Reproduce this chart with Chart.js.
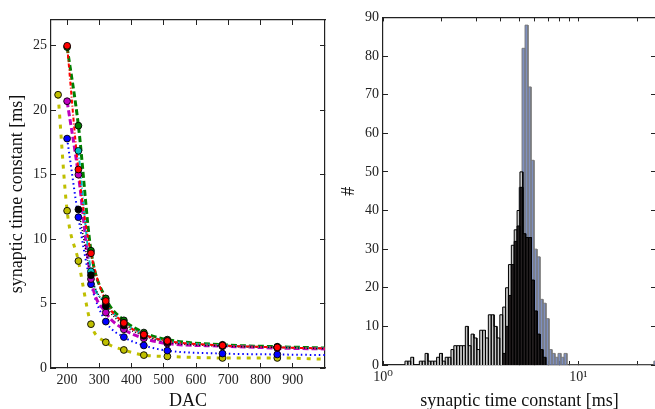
<!DOCTYPE html>
<html><head><meta charset="utf-8">
<script src="https://cdn.jsdelivr.net/npm/chart.js@4"></script>
<style>
html,body{margin:0;padding:0;background:#fff;overflow:hidden;width:655px;height:409px}
#c1{position:absolute;left:0;top:0}
#c2{position:absolute;left:330px;top:0}
</style></head><body>
<canvas id="c1" width="330" height="409"></canvas>
<canvas id="c2" width="330" height="409"></canvas>
<script>
// ---------- left panel data ----------
const dac       = [200, 235, 274, 320, 376, 438, 511, 682, 852];
const dacYellow = [172, 200, 235, 274, 320, 376, 438, 511, 682, 852];
const dacEnd = 1000;
const tauRed     = [25.0, 15.4, 8.9, 5.2, 3.5, 2.6, 2.1, 1.75, 1.6];
const tauGreen   = [24.9, 18.8, 9.1, 5.4, 3.7, 2.75, 2.2, 1.8, 1.65];
const tauBlue    = [17.8, 11.7, 6.5, 3.6, 2.4, 1.75, 1.35, 1.12, 1.05];
const tauMagenta = [20.7, 15.0, 6.9, 4.3, 3.0, 2.3, 1.9, 1.7, 1.55];
const tauCyan    = [null, 16.85, 7.5, 5.0, 3.5, 2.6, 2.1, 1.75, 1.6];
const tauBlack   = [null, 12.3, 7.2, 4.8, 3.3, 2.5, 2.0, 1.7, 1.6];
const tauYellow  = [21.2, 12.2, 8.3, 3.4, 2.0, 1.4, 1.0, 0.9, 0.78, 0.78];
// curve values at the right edge (DAC 1000)
const tauEnd = {red:1.52, green:1.55, blue:1.0, magenta:1.48, cyan:1.52, black:1.5, yellow:0.68};
const dacTicks = [200, 300, 400, 500, 600, 700, 800, 900];
const tauTicks = [0, 5, 10, 15, 20, 25];

// ---------- right panel data (histograms on log-spaced bins) ----------
const grayBinStartLog = 0.1125, grayBinStepLog = 0.01472;
const grayCounts = [1,1,2,0,0,1,1,3,1,1,1,2,3,1,2,2,4,5,5,5,5,10,5,8,7,4,9,9,7,13,13,10,7,13,15,20,26,31,35,40,50];
const darkBinStartIdx = 34;
const darkCounts = [3,10,18,26,32,36,46,34,33,33,22,14,8,4,2];
const blueBinStartLog = 0.5125, blueBinStepLog = 0.01534;
const blueCounts = [1,0,0,1,0,0,1,2,5,10,18,30,46,82,88,72,53,30,28,17,16,12,4,3,2,3,2,3,
  0,0,0,0,0,0,0,0,0,0,0,0,0,0,0,0,0,0,0,0,0,0,0,0,0,0,0,0,0,1];
const countTicks = [0,10,20,30,40,50,60,70,80,90];

const SERIF = "'Liberation Serif', 'DejaVu Serif', serif";
const tickFont = {family: SERIF, size: 14};
const titleFont = {family: SERIF, size: 18};

function pts(xs, ys){ return xs.map((x,i)=>({x, y: ys[i]})).filter(p=>p.y!=null); }
function histPoints(startLog, stepLog, counts, offset){
  const out = [];
  counts.forEach((c,i)=>{
    if (!c) return;
    const e0 = Math.pow(10, startLog + (i+offset)*stepLog);
    const e1 = Math.pow(10, startLog + (i+offset+1)*stepLog);
    out.push({x:e0,y:0},{x:e0,y:c},{x:e1,y:c},{x:e1,y:0});
  });
  return out;
}

const spine = {display:true, color:'#222', width:1.2};
function inward(len){ return {drawOnChartArea:false, drawTicks:true, tickLength:-len, tickColor:'#222', lineWidth:1}; }
function fixSize(prop, v){ return s => { s[prop] = v; }; }

function curve(key, xs, ys, color, dash, width){
  const d = pts(xs, ys); d.push({x: dacEnd, y: tauEnd[key]});
  return {label:key+' fit', data:d, borderColor:color, borderWidth:width, borderDash:dash,
    pointRadius:0, fill:false, showLine:true, cubicInterpolationMode:'monotone', order:2};
}
function markers(key, xs, ys, color){
  return {label:key, data: pts(xs, ys), showLine:false, pointRadius:3.4,
    pointBackgroundColor:color, pointBorderColor:'#000', pointBorderWidth:0.9, order:1};
}
const lineDefs = [
  ['red', dac, tauRed, '#ff0000', [4,2,1,2], 2],
  ['black', dac, tauBlack, '#000000', [1,2], 1.5],
  ['cyan', dac, tauCyan, '#00bfbf', [5,2,1,2], 2],
  ['magenta', dac, tauMagenta, '#bf00bf', [6,3], 3],
  ['green', dac, tauGreen, '#008000', [6,3], 3],
  ['blue', dac, tauBlue, '#0000ff', [1.5,3], 2],
  ['yellow', dacYellow, tauYellow, '#bfbf00', [4,6], 3],
];
const leftSets = [];
lineDefs.forEach(d => leftSets.push(curve(...d)));
lineDefs.forEach(d => leftSets.push(markers(d[0], d[1], d[2], d[3])));

new Chart(document.getElementById('c1'), {
  type: 'scatter',
  data: { datasets: leftSets },
  options: {
    responsive:false, animation:false, devicePixelRatio:1,
    layout:{padding:0},
    plugins:{legend:{display:false}, tooltip:{enabled:false}},
    scales:{
      x:{type:'linear', position:'bottom', min:150, max:1000,
        afterBuildTicks: s => { s.ticks = dacTicks.map(v=>({value:v})); },
        afterFit: fixSize('height', 41),
        grid: inward(5), border: spine,
        ticks:{font:tickFont, color:'#222', padding:9, maxRotation:0, autoSkip:false},
        title:{display:true, text:'DAC', font:titleFont, color:'#111', padding:{top:0,bottom:-3}}},
      x2:{type:'linear', position:'top', min:150, max:1000,
        afterBuildTicks: s => { s.ticks = dacTicks.map(v=>({value:v})); },
        afterFit: fixSize('height', 20),
        grid: inward(5), border: spine, ticks:{display:false}},
      y:{type:'linear', position:'left', min:0, max:27,
        afterBuildTicks: s => { s.ticks = tauTicks.map(v=>({value:v})); },
        afterFit: fixSize('width', 51),
        grid: inward(5), border: spine,
        ticks:{font:tickFont, color:'#222', padding:9, autoSkip:false},
        title:{display:true, text:'synaptic time constant [ms]', font:titleFont, color:'#111', padding:{top:6,bottom:0}}},
      y2:{type:'linear', position:'right', min:0, max:27,
        afterBuildTicks: s => { s.ticks = tauTicks.map(v=>({value:v})); },
        afterFit: fixSize('width', 5),
        grid: inward(5), border: spine, ticks:{display:false}}
    }
  }
});

function histSet(label, data, fillCol, edgeCol){
  return {label, data, borderColor: edgeCol, backgroundColor: fillCol, borderWidth: 1,
    pointRadius:0, fill:'origin', tension:0, showLine:true};
}

const logTickVals = [1,2,3,4,5,6,7,8,9,10,20];
new Chart(document.getElementById('c2'), {
  type: 'scatter',
  data: { datasets: [
    histSet('dark', histPoints(grayBinStartLog, grayBinStepLog, darkCounts, darkBinStartIdx), 'rgba(35,31,32,1)', '#000'),
    histSet('gray', histPoints(grayBinStartLog, grayBinStepLog, grayCounts, 0), 'rgba(200,200,200,1)', '#000'),
    histSet('blue', histPoints(blueBinStartLog, blueBinStepLog, blueCounts, 0), 'rgba(105,124,180,0.85)', 'rgba(120,120,120,0.9)'),
  ]},
  options: {
    responsive:false, animation:false, devicePixelRatio:1,
    layout:{padding:0},
    plugins:{legend:{display:false}, tooltip:{enabled:false}},
    scales:{
      x:{type:'logarithmic', position:'bottom', min:1, max:25,
        afterBuildTicks: s => { s.ticks = logTickVals.map(v=>({value:v, major: v===1||v===10})); },
        afterFit: fixSize('height', 44),
        grid: inward(4), border: spine,
        ticks:{font:tickFont, color:'#222', padding:8, maxRotation:0, autoSkip:false,
          callback: v => v===1 ? '10⁰' : (v===10 ? '10¹' : '')},
        title:{display:true, text:'synaptic time constant [ms]', font:titleFont, color:'#111', padding:{top:0,bottom:-3}}},
      x2:{type:'logarithmic', position:'top', min:1, max:25,
        afterBuildTicks: s => { s.ticks = logTickVals.map(v=>({value:v})); },
        afterFit: fixSize('height', 17),
        grid: inward(4), border: spine, ticks:{display:false}},
      y:{type:'linear', position:'left', min:0, max:90,
        afterBuildTicks: s => { s.ticks = countTicks.map(v=>({value:v})); },
        afterFit: fixSize('width', 53),
        grid: inward(5), border: spine,
        ticks:{font:tickFont, color:'#222', padding:9, autoSkip:false},
        title:{display:true, text:'#', font:titleFont, color:'#111', padding:{top:8,bottom:0}}},
      y2:{type:'linear', position:'right', min:0, max:90,
        afterBuildTicks: s => { s.ticks = countTicks.map(v=>({value:v})); },
        afterFit: fixSize('width', 4),
        grid: inward(5), border: spine, ticks:{display:false}}
    }
  }
});
</script>
</body></html>
